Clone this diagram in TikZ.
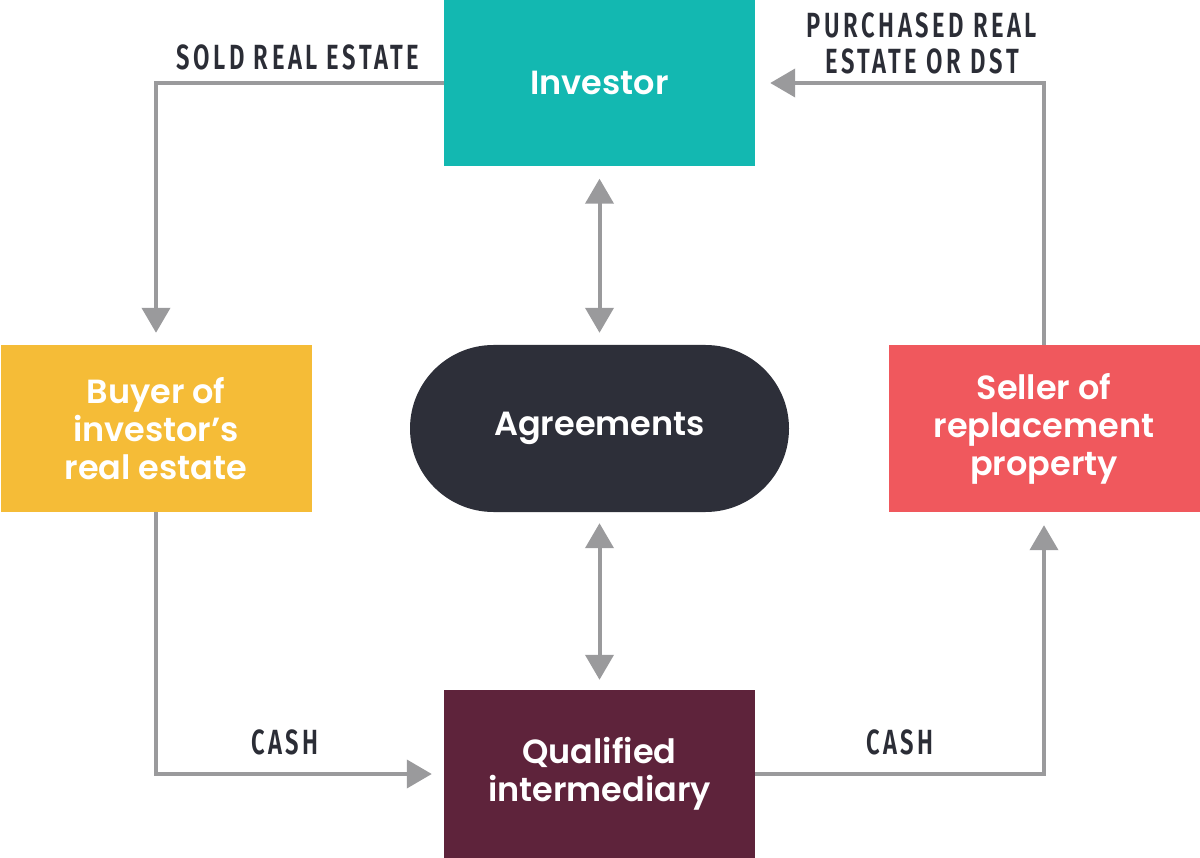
\documentclass[tikz,border=0pt]{standalone}
\usepackage{fontspec}
\usetikzlibrary{arrows.meta,shapes.misc}
\newfontfamily\nodefont{Poppins}[UprightFont=* SemiBold]
\newfontfamily\labfont{Fira Sans}[UprightFont=* SemiBold,FakeStretch=0.68,LetterSpace=10]
\definecolor{cteal}{HTML}{13B8B1}
\definecolor{cyellow}{HTML}{F5BC37}
\definecolor{cdark}{HTML}{2D2F39}
\definecolor{cred}{HTML}{F0585D}
\definecolor{cmaroon}{HTML}{5E233B}
\definecolor{carrow}{HTML}{9A9A9C}
\definecolor{clabel}{HTML}{2B2D36}
\tikzset{
  box/.style={rectangle, minimum width=311pt, minimum height=167pt, inner sep=0pt,
    text=white, align=center, font=\nodefont\fontsize{33.5}{38}\selectfont},
  conn/.style={draw=carrow, line width=4pt, -{Triangle[length=25pt,width=28pt]}},
  dconn/.style={draw=carrow, line width=4pt, {Triangle[length=25pt,width=28pt]}-{Triangle[length=25pt,width=28pt]}},
  lab/.style={text=clabel, align=center, inner sep=0pt, font=\labfont\fontsize{35}{36}\selectfont}
}
\begin{document}
\begin{tikzpicture}[x=1pt,y=-1pt]
\useasboundingbox (0,0) rectangle (1200,858);
\node[box, fill=cteal] (inv) at (599.5,83) {Investor};
\node[box, fill=cyellow] (buy) at (156,428.5) {Buyer of\\investor’s\\real estate};
\node[box, fill=cdark, rounded rectangle, minimum width=379pt] (agr) at (599.5,428.5) {Agreements};
\node[box, fill=cred] (sel) at (1044,428.5) {Seller of\\replacement\\property};
\node[box, fill=cmaroon, minimum height=168pt] (qi) at (599.5,774) {Qualified\\intermediary};

\draw[conn, shorten >=12pt] (inv.west) -| (buy.north);
\draw[dconn, shorten <=12pt, shorten >=12pt] (inv.south) -- (agr.north);
\draw[dconn, shorten <=11pt, shorten >=10pt] (agr.south) -- (qi.north);
\draw[conn, shorten >=12pt] (buy.south) |- (qi.west);
\draw[conn, shorten >=13pt] (qi.east) -| (sel.south);
\draw[conn, shorten >=15pt] (sel.north) |- (inv.east);

\node[lab] (l1) at (298,57) {SOLD REAL ESTATE};
\node[lab] (l2) at (922,43) {PURCHASED REAL\\ESTATE OR DST};
\node[lab] (l3) at (285,742) {CASH};
\node[lab] (l4) at (900,742) {CASH};
\end{tikzpicture}
\end{document}
